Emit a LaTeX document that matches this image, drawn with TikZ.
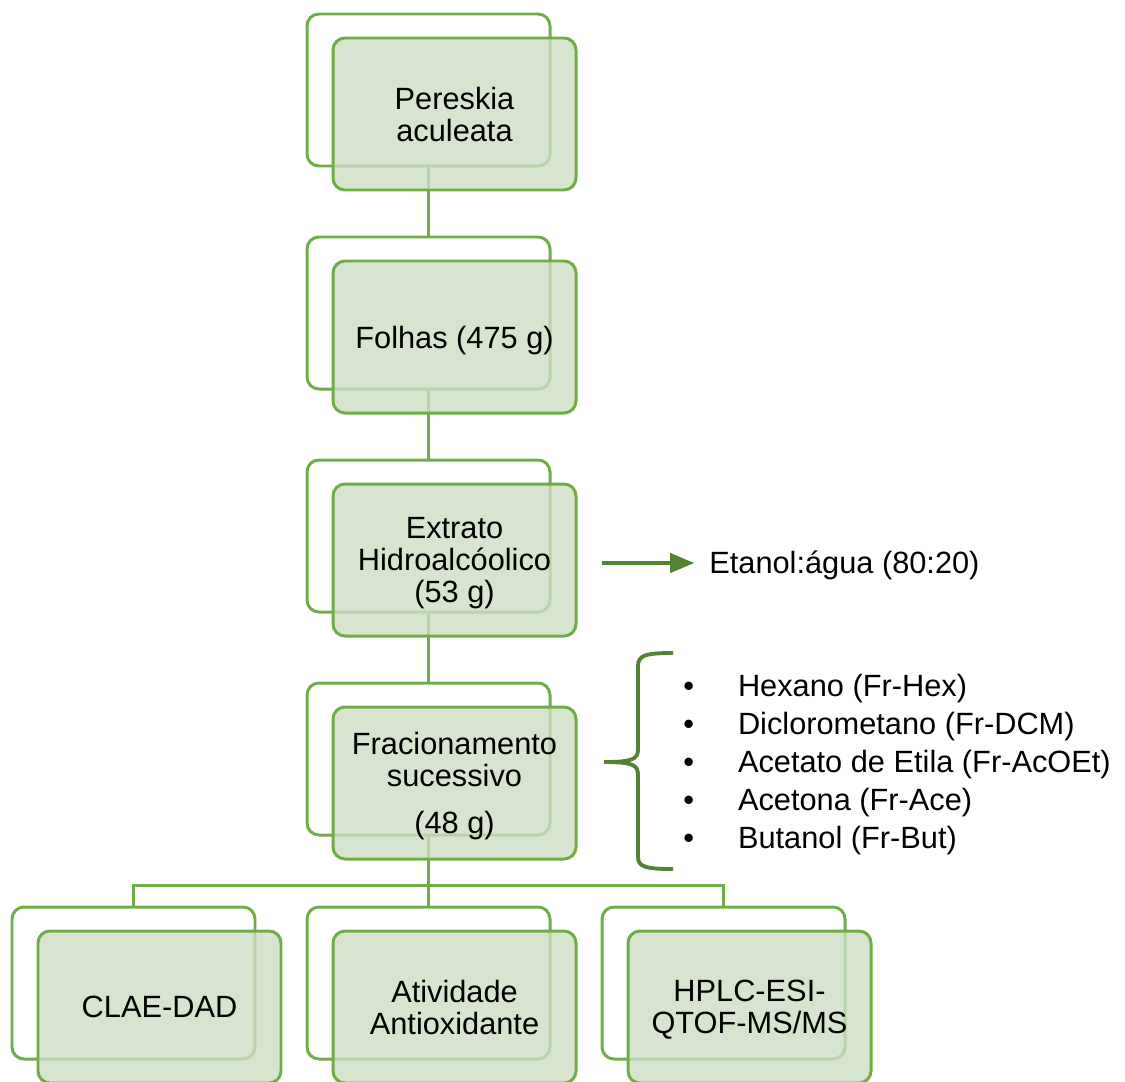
\documentclass[tikz,border=0pt]{standalone}
\usepackage{fontspec}
\setmainfont{Liberation Sans}
\usepackage{xcolor}
\usepackage{tikz}
\usetikzlibrary{arrows}
\definecolor{lgreen}{RGB}{112, 173, 71}
\definecolor{dgreen}{RGB}{84, 130, 53}
\definecolor{pgreen}{RGB}{205, 222, 195}
\newcommand{\boxfont}{\fontsize{17.5}{18.2}\selectfont}
\tikzset{>=triangle 45}
\tikzset{
  txt/.style={font = \boxfont, text depth = 1.5pt},
  backbox/.style={draw = lgreen, fill = white, line width = 1.7pt, rounded corners = 0.24cm,
    minimum width = 4.86cm, minimum height = 3.04cm},
  frontbox/.style={backbox, txt, text depth = -1.9pt, fill = pgreen, fill opacity = 0.8, text opacity = 1,
    align = center},
  link/.style={draw = lgreen, line width = 1.6pt}
}

\begin{document}
\begin{tikzpicture}
  \useasboundingbox (0, 0) rectangle (22.5, -21.62);
  % back boxes
  \node[backbox] (plb) at (8.57, -1.80){};
  \node[backbox] (fob) at (8.57, -6.26){};
  \node[backbox] (exb) at (8.57, -10.72){};
  \node[backbox] (frb) at (8.57, -15.18){};
  \node[backbox] (clb) at (2.67, -19.66){};
  \node[backbox] (atb) at (8.57, -19.66){};
  \node[backbox] (hpb) at (14.47, -19.66){};
  % links
  \draw[link] (plb.south) -- (fob.north);
  \draw[link] (fob.south) -- (exb.north);
  \draw[link] (exb.south) -- (frb.north);
  \draw[link] (frb.south) -- ++(0, -0.98) coordinate (bus);
  \draw[link] (clb.north) |- (bus) -| (hpb.north);
  \draw[link] (bus) -- (atb.north);
  % front boxes
  \node[frontbox] (pl) at (9.09, -2.28){Pereskia\\aculeata};
  \node[frontbox] (fo) at (9.09, -6.74){Folhas (475 g)};
  \node[frontbox] (ex) at (9.09, -11.20){Extrato\\Hidroalcóolico\\(53 g)};
  \node[frontbox] (fr) at (9.09, -15.66){Fracionamento\\sucessivo\\[0.3cm](48 g)};
  \node[frontbox] (cl) at (3.19, -20.14){CLAE-DAD};
  \node[frontbox] (at) at (9.09, -20.14){Atividade\\Antioxidante};
  \node[frontbox] (hp) at (14.99, -20.14){HPLC-ESI-\\QTOF-MS/MS};
  % solvent
  \coordinate (ar) at (12.04, -11.26);
  \node[txt, anchor = west, inner xsep = 0.3cm, inner ysep = 0pt] (eta) at (13.88, -11.27){Etanol:água (80:20)};
  \draw[->, dgreen, line width = 2.2pt] (ar) -- (ar -| eta.west);
  % fractions
  \draw[dgreen, line width = 2.2pt] (13.46, -13.06) .. controls (12.92, -13.06) and (12.76, -13.1) .. (12.76, -13.32)
    -- (12.76, -14.98) .. controls (12.76, -15.18) and (12.66, -15.24) .. (12.08, -15.24)
    .. controls (12.66, -15.24) and (12.76, -15.3) .. (12.76, -15.5)
    -- (12.76, -17.14) .. controls (12.76, -17.34) and (12.92, -17.38) .. (13.46, -17.38);
  \node[anchor = west, inner sep = 0pt, font = \fontsize{17.5}{21.7}\selectfont] (frl) at (13.66, -15.30){%
    \begin{tabular}{@{}l@{\hspace{25pt}}l@{}}
      • & Hexano (Fr-Hex)\\
      • & Diclorometano (Fr-DCM)\\
      • & Acetato de Etila (Fr-AcOEt)\\
      • & Acetona (Fr-Ace)\\
      • & Butanol (Fr-But)
    \end{tabular}};
\end{tikzpicture}
\end{document}
